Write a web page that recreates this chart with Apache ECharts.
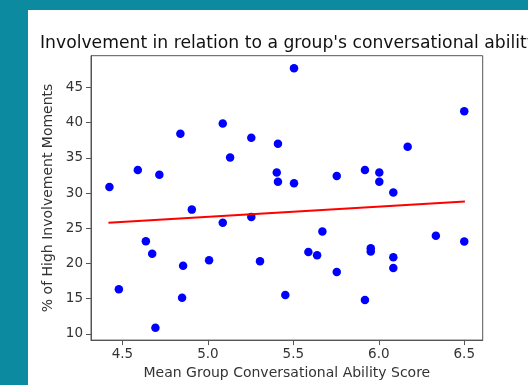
<!DOCTYPE html>
<html>
<head>
<meta charset="utf-8">
<script src="https://cdn.jsdelivr.net/npm/echarts@6/dist/echarts.min.js"></script>
<style>
html,body{margin:0;padding:0;background:#0b8aa0;}
#wrap{position:absolute;left:0;top:0;width:528px;height:385px;background:#0b8aa0;overflow:hidden;}
#card{position:absolute;left:28px;top:10px;width:500px;height:375px;background:#ffffff;}
#chart{position:absolute;left:0;top:0;width:528px;height:385px;}
</style>
</head>
<body>
<div id="wrap"><div id="card"></div><div id="chart"></div></div>
<script>
var xValues = [4.424,4.59,4.716,4.839,5.087,5.13,5.254,5.41,5.403,5.41,5.504,6.5,6.169,5.504,5.754,5.919,6.003,6.003,6.085,4.906,5.087,5.254,4.637,4.674,5.007,4.855,5.305,4.479,4.849,4.693,5.67,5.588,5.639,5.754,5.453,5.919,5.953,5.953,6.085,6.085,6.334,6.5];
var yValues = [30.87,33.28,32.6,38.4,39.86,35.04,37.86,37.0,32.9,31.6,47.72,41.6,36.57,31.39,32.4,33.28,32.92,31.61,30.08,27.64,25.78,26.61,23.14,21.39,20.46,19.67,20.32,16.33,15.14,10.88,24.53,21.61,21.15,18.79,15.5,14.81,22.17,21.71,20.88,19.35,23.93,23.1];
var fitX = [4.418, 6.504];
var fitY = [25.78, 28.79];
var xTicks = [4.5, 5.0, 5.5, 6.0, 6.5];
var yTicks = [10, 15, 20, 25, 30, 35, 40, 45];

var points = xValues.map(function(x, i){ return [x, yValues[i]]; });
var fit = fitX.map(function(x, i){ return [x, fitY[i]]; });

var chart = echarts.init(document.getElementById('chart'), null, {renderer:'canvas'});
var axisColor = '#555';
var textColor = '#333';
var font = 'DejaVu Sans';
chart.setOption({
  backgroundColor: 'transparent',
  animation: false,
  title: {
    text: "Involvement in relation to a group's conversational ability",
    left: 35, top: 30,
    textStyle: {fontFamily: font, fontSize: 17.2, fontWeight: 'normal', color: '#111'}
  },
  grid: {left: 91, right: 45.3, top: 55.7, bottom: 38.3, show: true, borderColor: axisColor, borderWidth: 1, backgroundColor: '#fff'},
  xAxis: {
    type: 'value', min: 4.316, max: 6.608,
    name: 'Mean Group Conversational Ability Score', nameLocation: 'middle', nameGap: 24,
    nameTextStyle: {fontFamily: font, fontSize: 14, color: textColor, verticalAlign: 'top'},
    splitLine: {show: false},
    axisLine: {show: true, lineStyle: {color: axisColor}},
    axisTick: {show: true, length: 5, lineStyle: {color: axisColor}, customValues: xTicks},
    axisLabel: {customValues: xTicks, fontFamily: font, fontSize: 13.5, color: textColor, margin: 7,
      formatter: function(v){ return v.toFixed(1); }}
  },
  yAxis: {
    type: 'value', min: 9.11, max: 49.5,
    name: '% of High Involvement Moments', nameLocation: 'middle', nameGap: 32, nameRotate: 90,
    nameTextStyle: {fontFamily: font, fontSize: 14, color: textColor},
    splitLine: {show: false},
    axisLine: {show: true, lineStyle: {color: axisColor}},
    axisTick: {show: true, length: 5, lineStyle: {color: axisColor}, customValues: yTicks},
    axisLabel: {customValues: yTicks, fontFamily: font, fontSize: 13.5, color: textColor, margin: 8}
  },
  series: [
    {type: 'scatter', data: points, symbolSize: 8.5, itemStyle: {color: '#0000ff', opacity: 1}, z: 2},
    {type: 'line', data: fit, showSymbol: false, symbol: 'none', lineStyle: {color: '#ff0000', width: 2}, z: 3}
  ]
});
</script>
</body>
</html>
